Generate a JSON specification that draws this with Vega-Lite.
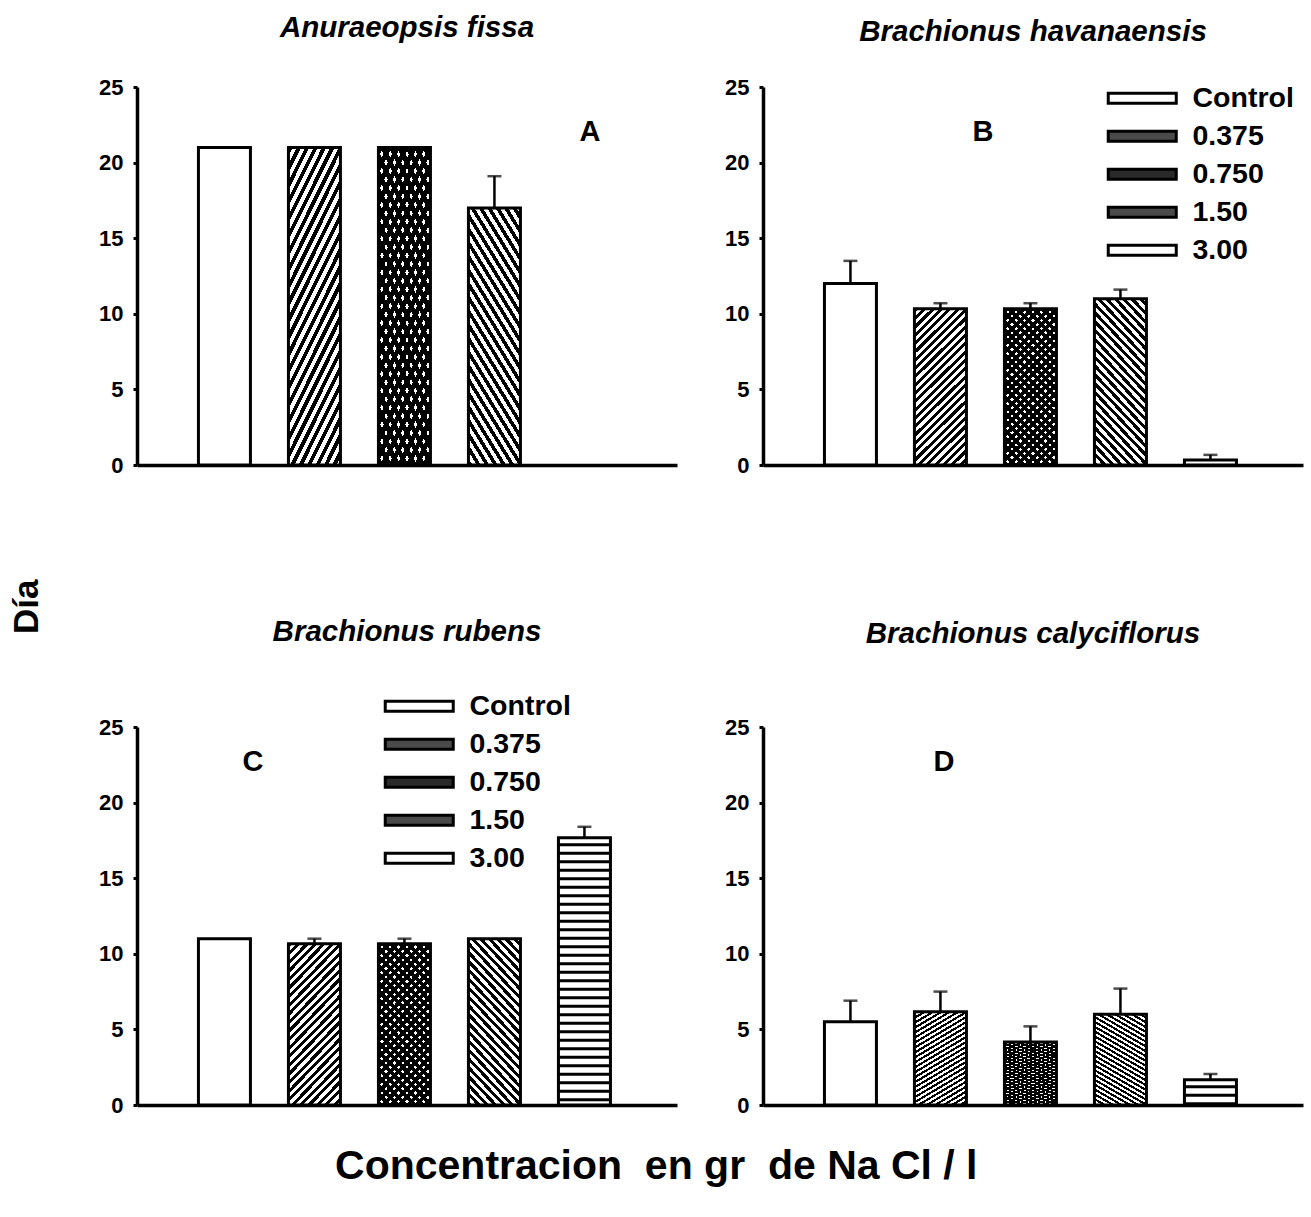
{
"$schema": "https://vega.github.io/schema/vega-lite/v6.json",
"padding": {"left": 9, "top": 12, "right": 5, "bottom": 5},
"datasets": {
"bars": [
{"panel":"A","conc":"Control","mean":21},
{"panel":"A","conc":"0.375","mean":21},
{"panel":"A","conc":"0.750","mean":21},
{"panel":"A","conc":"1.50","mean":17,"upper":19.1},
{"panel":"B","conc":"Control","mean":12,"upper":13.5},
{"panel":"B","conc":"0.375","mean":10.33,"upper":10.7},
{"panel":"B","conc":"0.750","mean":10.33,"upper":10.7},
{"panel":"B","conc":"1.50","mean":11,"upper":11.6},
{"panel":"B","conc":"3.00","mean":0.33,"upper":0.67},
{"panel":"C","conc":"Control","mean":11},
{"panel":"C","conc":"0.375","mean":10.67,"upper":11},
{"panel":"C","conc":"0.750","mean":10.67,"upper":11},
{"panel":"C","conc":"1.50","mean":11},
{"panel":"C","conc":"3.00","mean":17.67,"upper":18.4},
{"panel":"D","conc":"Control","mean":5.5,"upper":6.9},
{"panel":"D","conc":"0.375","mean":6.17,"upper":7.5},
{"panel":"D","conc":"0.750","mean":4.17,"upper":5.2},
{"panel":"D","conc":"1.50","mean":6,"upper":7.7},
{"panel":"D","conc":"3.00","mean":1.67,"upper":2.05}
]
},
"config": {
"font": "Liberation Sans",
"view": {"stroke": null},
"axis": {"grid": false, "domainColor": "black", "tickColor": "black", "labelColor": "black", "labelFont": "Liberation Sans", "labelFontSize": 22, "labelFontWeight": "bold", "domainWidth": 3.5, "tickWidth": 3, "tickSize": 4, "labelPadding": 10},
"title": {"font": "Liberation Sans", "fontSize": 29.5, "fontWeight": "bold", "fontStyle": "italic", "color": "black", "offset": 33, "anchor": "middle"},
"legend": {"orient": "none", "title": null, "symbolType": "M-6.8,-1H6.8V1H-6.8Z", "symbolSize": 100, "symbolStrokeColor": "black", "symbolStrokeWidth": 3, "symbolOpacity": 1, "labelFont": "Liberation Sans", "labelFontSize": 28.5, "labelFontWeight": "bold", "labelColor": "black", "labelOffset": 36, "rowPadding": 9},
"style": {
"h375": {"color": {"gradient":"linear","x1":0,"y1":0,"x2":0.396,"y2":1.2,"stops":[{"offset":0,"color":"#000"},{"offset":0.02,"color":"#000"},{"offset":0.02,"color":"#fff"},{"offset":0.04,"color":"#fff"},{"offset":0.04,"color":"#000"},{"offset":0.06,"color":"#000"},{"offset":0.06,"color":"#fff"},{"offset":0.08,"color":"#fff"},{"offset":0.08,"color":"#000"},{"offset":0.1,"color":"#000"},{"offset":0.1,"color":"#fff"},{"offset":0.12,"color":"#fff"},{"offset":0.12,"color":"#000"},{"offset":0.14,"color":"#000"},{"offset":0.14,"color":"#fff"},{"offset":0.16,"color":"#fff"},{"offset":0.16,"color":"#000"},{"offset":0.18,"color":"#000"},{"offset":0.18,"color":"#fff"},{"offset":0.2,"color":"#fff"},{"offset":0.2,"color":"#000"},{"offset":0.22,"color":"#000"},{"offset":0.22,"color":"#fff"},{"offset":0.24,"color":"#fff"},{"offset":0.24,"color":"#000"},{"offset":0.26,"color":"#000"},{"offset":0.26,"color":"#fff"},{"offset":0.28,"color":"#fff"},{"offset":0.28,"color":"#000"},{"offset":0.3,"color":"#000"},{"offset":0.3,"color":"#fff"},{"offset":0.32,"color":"#fff"},{"offset":0.32,"color":"#000"},{"offset":0.34,"color":"#000"},{"offset":0.34,"color":"#fff"},{"offset":0.36,"color":"#fff"},{"offset":0.36,"color":"#000"},{"offset":0.38,"color":"#000"},{"offset":0.38,"color":"#fff"},{"offset":0.4,"color":"#fff"},{"offset":0.4,"color":"#000"},{"offset":0.42,"color":"#000"},{"offset":0.42,"color":"#fff"},{"offset":0.44,"color":"#fff"},{"offset":0.44,"color":"#000"},{"offset":0.46,"color":"#000"},{"offset":0.46,"color":"#fff"},{"offset":0.48,"color":"#fff"},{"offset":0.48,"color":"#000"},{"offset":0.5,"color":"#000"},{"offset":0.5,"color":"#fff"},{"offset":0.52,"color":"#fff"},{"offset":0.52,"color":"#000"},{"offset":0.54,"color":"#000"},{"offset":0.54,"color":"#fff"},{"offset":0.56,"color":"#fff"},{"offset":0.56,"color":"#000"},{"offset":0.58,"color":"#000"},{"offset":0.58,"color":"#fff"},{"offset":0.6,"color":"#fff"},{"offset":0.6,"color":"#000"},{"offset":0.62,"color":"#000"},{"offset":0.62,"color":"#fff"},{"offset":0.64,"color":"#fff"},{"offset":0.64,"color":"#000"},{"offset":0.66,"color":"#000"},{"offset":0.66,"color":"#fff"},{"offset":0.68,"color":"#fff"},{"offset":0.68,"color":"#000"},{"offset":0.7,"color":"#000"},{"offset":0.7,"color":"#fff"},{"offset":0.72,"color":"#fff"},{"offset":0.72,"color":"#000"},{"offset":0.74,"color":"#000"},{"offset":0.74,"color":"#fff"},{"offset":0.76,"color":"#fff"},{"offset":0.76,"color":"#000"},{"offset":0.78,"color":"#000"},{"offset":0.78,"color":"#fff"},{"offset":0.8,"color":"#fff"},{"offset":0.8,"color":"#000"},{"offset":0.82,"color":"#000"},{"offset":0.82,"color":"#fff"},{"offset":0.84,"color":"#fff"},{"offset":0.84,"color":"#000"},{"offset":0.86,"color":"#000"},{"offset":0.86,"color":"#fff"},{"offset":0.88,"color":"#fff"},{"offset":0.88,"color":"#000"},{"offset":0.9,"color":"#000"},{"offset":0.9,"color":"#fff"},{"offset":0.92,"color":"#fff"},{"offset":0.92,"color":"#000"},{"offset":0.94,"color":"#000"},{"offset":0.94,"color":"#fff"},{"offset":0.96,"color":"#fff"},{"offset":0.96,"color":"#000"},{"offset":0.98,"color":"#000"},{"offset":0.98,"color":"#fff"},{"offset":1,"color":"#fff"}]}},
"h150": {"color": {"gradient":"linear","x1":0,"y1":1,"x2":0.396,"y2":-0.2,"stops":[{"offset":0,"color":"#000"},{"offset":0.02,"color":"#000"},{"offset":0.02,"color":"#fff"},{"offset":0.04,"color":"#fff"},{"offset":0.04,"color":"#000"},{"offset":0.06,"color":"#000"},{"offset":0.06,"color":"#fff"},{"offset":0.08,"color":"#fff"},{"offset":0.08,"color":"#000"},{"offset":0.1,"color":"#000"},{"offset":0.1,"color":"#fff"},{"offset":0.12,"color":"#fff"},{"offset":0.12,"color":"#000"},{"offset":0.14,"color":"#000"},{"offset":0.14,"color":"#fff"},{"offset":0.16,"color":"#fff"},{"offset":0.16,"color":"#000"},{"offset":0.18,"color":"#000"},{"offset":0.18,"color":"#fff"},{"offset":0.2,"color":"#fff"},{"offset":0.2,"color":"#000"},{"offset":0.22,"color":"#000"},{"offset":0.22,"color":"#fff"},{"offset":0.24,"color":"#fff"},{"offset":0.24,"color":"#000"},{"offset":0.26,"color":"#000"},{"offset":0.26,"color":"#fff"},{"offset":0.28,"color":"#fff"},{"offset":0.28,"color":"#000"},{"offset":0.3,"color":"#000"},{"offset":0.3,"color":"#fff"},{"offset":0.32,"color":"#fff"},{"offset":0.32,"color":"#000"},{"offset":0.34,"color":"#000"},{"offset":0.34,"color":"#fff"},{"offset":0.36,"color":"#fff"},{"offset":0.36,"color":"#000"},{"offset":0.38,"color":"#000"},{"offset":0.38,"color":"#fff"},{"offset":0.4,"color":"#fff"},{"offset":0.4,"color":"#000"},{"offset":0.42,"color":"#000"},{"offset":0.42,"color":"#fff"},{"offset":0.44,"color":"#fff"},{"offset":0.44,"color":"#000"},{"offset":0.46,"color":"#000"},{"offset":0.46,"color":"#fff"},{"offset":0.48,"color":"#fff"},{"offset":0.48,"color":"#000"},{"offset":0.5,"color":"#000"},{"offset":0.5,"color":"#fff"},{"offset":0.52,"color":"#fff"},{"offset":0.52,"color":"#000"},{"offset":0.54,"color":"#000"},{"offset":0.54,"color":"#fff"},{"offset":0.56,"color":"#fff"},{"offset":0.56,"color":"#000"},{"offset":0.58,"color":"#000"},{"offset":0.58,"color":"#fff"},{"offset":0.6,"color":"#fff"},{"offset":0.6,"color":"#000"},{"offset":0.62,"color":"#000"},{"offset":0.62,"color":"#fff"},{"offset":0.64,"color":"#fff"},{"offset":0.64,"color":"#000"},{"offset":0.66,"color":"#000"},{"offset":0.66,"color":"#fff"},{"offset":0.68,"color":"#fff"},{"offset":0.68,"color":"#000"},{"offset":0.7,"color":"#000"},{"offset":0.7,"color":"#fff"},{"offset":0.72,"color":"#fff"},{"offset":0.72,"color":"#000"},{"offset":0.74,"color":"#000"},{"offset":0.74,"color":"#fff"},{"offset":0.76,"color":"#fff"},{"offset":0.76,"color":"#000"},{"offset":0.78,"color":"#000"},{"offset":0.78,"color":"#fff"},{"offset":0.8,"color":"#fff"},{"offset":0.8,"color":"#000"},{"offset":0.82,"color":"#000"},{"offset":0.82,"color":"#fff"},{"offset":0.84,"color":"#fff"},{"offset":0.84,"color":"#000"},{"offset":0.86,"color":"#000"},{"offset":0.86,"color":"#fff"},{"offset":0.88,"color":"#fff"},{"offset":0.88,"color":"#000"},{"offset":0.9,"color":"#000"},{"offset":0.9,"color":"#fff"},{"offset":0.92,"color":"#fff"},{"offset":0.92,"color":"#000"},{"offset":0.94,"color":"#000"},{"offset":0.94,"color":"#fff"},{"offset":0.96,"color":"#fff"},{"offset":0.96,"color":"#000"},{"offset":0.98,"color":"#000"},{"offset":0.98,"color":"#fff"},{"offset":1,"color":"#fff"}]}},
"d750a": {"color": {"gradient":"linear","x1":0,"y1":0,"x2":0.396,"y2":1.2,"stops":[{"offset":0,"color":"#000"},{"offset":0.024,"color":"#000"},{"offset":0.024,"color":"#fff"},{"offset":0.04,"color":"#fff"},{"offset":0.04,"color":"#000"},{"offset":0.064,"color":"#000"},{"offset":0.064,"color":"#fff"},{"offset":0.08,"color":"#fff"},{"offset":0.08,"color":"#000"},{"offset":0.104,"color":"#000"},{"offset":0.104,"color":"#fff"},{"offset":0.12,"color":"#fff"},{"offset":0.12,"color":"#000"},{"offset":0.144,"color":"#000"},{"offset":0.144,"color":"#fff"},{"offset":0.16,"color":"#fff"},{"offset":0.16,"color":"#000"},{"offset":0.184,"color":"#000"},{"offset":0.184,"color":"#fff"},{"offset":0.2,"color":"#fff"},{"offset":0.2,"color":"#000"},{"offset":0.224,"color":"#000"},{"offset":0.224,"color":"#fff"},{"offset":0.24,"color":"#fff"},{"offset":0.24,"color":"#000"},{"offset":0.264,"color":"#000"},{"offset":0.264,"color":"#fff"},{"offset":0.28,"color":"#fff"},{"offset":0.28,"color":"#000"},{"offset":0.304,"color":"#000"},{"offset":0.304,"color":"#fff"},{"offset":0.32,"color":"#fff"},{"offset":0.32,"color":"#000"},{"offset":0.344,"color":"#000"},{"offset":0.344,"color":"#fff"},{"offset":0.36,"color":"#fff"},{"offset":0.36,"color":"#000"},{"offset":0.384,"color":"#000"},{"offset":0.384,"color":"#fff"},{"offset":0.4,"color":"#fff"},{"offset":0.4,"color":"#000"},{"offset":0.424,"color":"#000"},{"offset":0.424,"color":"#fff"},{"offset":0.44,"color":"#fff"},{"offset":0.44,"color":"#000"},{"offset":0.464,"color":"#000"},{"offset":0.464,"color":"#fff"},{"offset":0.48,"color":"#fff"},{"offset":0.48,"color":"#000"},{"offset":0.504,"color":"#000"},{"offset":0.504,"color":"#fff"},{"offset":0.52,"color":"#fff"},{"offset":0.52,"color":"#000"},{"offset":0.544,"color":"#000"},{"offset":0.544,"color":"#fff"},{"offset":0.56,"color":"#fff"},{"offset":0.56,"color":"#000"},{"offset":0.584,"color":"#000"},{"offset":0.584,"color":"#fff"},{"offset":0.6,"color":"#fff"},{"offset":0.6,"color":"#000"},{"offset":0.624,"color":"#000"},{"offset":0.624,"color":"#fff"},{"offset":0.64,"color":"#fff"},{"offset":0.64,"color":"#000"},{"offset":0.664,"color":"#000"},{"offset":0.664,"color":"#fff"},{"offset":0.68,"color":"#fff"},{"offset":0.68,"color":"#000"},{"offset":0.704,"color":"#000"},{"offset":0.704,"color":"#fff"},{"offset":0.72,"color":"#fff"},{"offset":0.72,"color":"#000"},{"offset":0.744,"color":"#000"},{"offset":0.744,"color":"#fff"},{"offset":0.76,"color":"#fff"},{"offset":0.76,"color":"#000"},{"offset":0.784,"color":"#000"},{"offset":0.784,"color":"#fff"},{"offset":0.8,"color":"#fff"},{"offset":0.8,"color":"#000"},{"offset":0.824,"color":"#000"},{"offset":0.824,"color":"#fff"},{"offset":0.84,"color":"#fff"},{"offset":0.84,"color":"#000"},{"offset":0.864,"color":"#000"},{"offset":0.864,"color":"#fff"},{"offset":0.88,"color":"#fff"},{"offset":0.88,"color":"#000"},{"offset":0.904,"color":"#000"},{"offset":0.904,"color":"#fff"},{"offset":0.92,"color":"#fff"},{"offset":0.92,"color":"#000"},{"offset":0.944,"color":"#000"},{"offset":0.944,"color":"#fff"},{"offset":0.96,"color":"#fff"},{"offset":0.96,"color":"#000"},{"offset":0.984,"color":"#000"},{"offset":0.984,"color":"#fff"},{"offset":1,"color":"#fff"}]}},
"d750b": {"color": {"gradient":"linear","x1":0,"y1":1,"x2":0.396,"y2":-0.2,"stops":[{"offset":0,"color":"#000"},{"offset":0.024,"color":"#000"},{"offset":0.024,"color":"transparent"},{"offset":0.04,"color":"transparent"},{"offset":0.04,"color":"#000"},{"offset":0.064,"color":"#000"},{"offset":0.064,"color":"transparent"},{"offset":0.08,"color":"transparent"},{"offset":0.08,"color":"#000"},{"offset":0.104,"color":"#000"},{"offset":0.104,"color":"transparent"},{"offset":0.12,"color":"transparent"},{"offset":0.12,"color":"#000"},{"offset":0.144,"color":"#000"},{"offset":0.144,"color":"transparent"},{"offset":0.16,"color":"transparent"},{"offset":0.16,"color":"#000"},{"offset":0.184,"color":"#000"},{"offset":0.184,"color":"transparent"},{"offset":0.2,"color":"transparent"},{"offset":0.2,"color":"#000"},{"offset":0.224,"color":"#000"},{"offset":0.224,"color":"transparent"},{"offset":0.24,"color":"transparent"},{"offset":0.24,"color":"#000"},{"offset":0.264,"color":"#000"},{"offset":0.264,"color":"transparent"},{"offset":0.28,"color":"transparent"},{"offset":0.28,"color":"#000"},{"offset":0.304,"color":"#000"},{"offset":0.304,"color":"transparent"},{"offset":0.32,"color":"transparent"},{"offset":0.32,"color":"#000"},{"offset":0.344,"color":"#000"},{"offset":0.344,"color":"transparent"},{"offset":0.36,"color":"transparent"},{"offset":0.36,"color":"#000"},{"offset":0.384,"color":"#000"},{"offset":0.384,"color":"transparent"},{"offset":0.4,"color":"transparent"},{"offset":0.4,"color":"#000"},{"offset":0.424,"color":"#000"},{"offset":0.424,"color":"transparent"},{"offset":0.44,"color":"transparent"},{"offset":0.44,"color":"#000"},{"offset":0.464,"color":"#000"},{"offset":0.464,"color":"transparent"},{"offset":0.48,"color":"transparent"},{"offset":0.48,"color":"#000"},{"offset":0.504,"color":"#000"},{"offset":0.504,"color":"transparent"},{"offset":0.52,"color":"transparent"},{"offset":0.52,"color":"#000"},{"offset":0.544,"color":"#000"},{"offset":0.544,"color":"transparent"},{"offset":0.56,"color":"transparent"},{"offset":0.56,"color":"#000"},{"offset":0.584,"color":"#000"},{"offset":0.584,"color":"transparent"},{"offset":0.6,"color":"transparent"},{"offset":0.6,"color":"#000"},{"offset":0.624,"color":"#000"},{"offset":0.624,"color":"transparent"},{"offset":0.64,"color":"transparent"},{"offset":0.64,"color":"#000"},{"offset":0.664,"color":"#000"},{"offset":0.664,"color":"transparent"},{"offset":0.68,"color":"transparent"},{"offset":0.68,"color":"#000"},{"offset":0.704,"color":"#000"},{"offset":0.704,"color":"transparent"},{"offset":0.72,"color":"transparent"},{"offset":0.72,"color":"#000"},{"offset":0.744,"color":"#000"},{"offset":0.744,"color":"transparent"},{"offset":0.76,"color":"transparent"},{"offset":0.76,"color":"#000"},{"offset":0.784,"color":"#000"},{"offset":0.784,"color":"transparent"},{"offset":0.8,"color":"transparent"},{"offset":0.8,"color":"#000"},{"offset":0.824,"color":"#000"},{"offset":0.824,"color":"transparent"},{"offset":0.84,"color":"transparent"},{"offset":0.84,"color":"#000"},{"offset":0.864,"color":"#000"},{"offset":0.864,"color":"transparent"},{"offset":0.88,"color":"transparent"},{"offset":0.88,"color":"#000"},{"offset":0.904,"color":"#000"},{"offset":0.904,"color":"transparent"},{"offset":0.92,"color":"transparent"},{"offset":0.92,"color":"#000"},{"offset":0.944,"color":"#000"},{"offset":0.944,"color":"transparent"},{"offset":0.96,"color":"transparent"},{"offset":0.96,"color":"#000"},{"offset":0.984,"color":"#000"},{"offset":0.984,"color":"transparent"},{"offset":1,"color":"transparent"}]}}
}
},
"title": {"text": "Concentracion\u00a0 en gr\u00a0 de Na Cl / l", "orient": "bottom", "fontSize": 41, "fontStyle": "normal", "offset": 16},
"resolve": {"scale": {"fill": "independent"}, "legend": {"fill": "independent"}},
"vconcat": [
{
"title": {"text": "Día", "orient": "left", "fontSize": 35, "fontStyle": "normal", "offset": 54, "dx": -35},
"spacing": 640,
"bounds": "flush",
"resolve": {"scale": {"fill": "independent"}, "legend": {"fill": "independent"}},
"vconcat": [
{
"hconcat": [
{
"width": 540, "height": 378,
"title": {"text": "Anuraeopsis fissa"},
"data": {"name": "bars"},
"transform": [{"filter": "datum.panel === 'A'"}],
"encoding": {
"x": {"field": "conc", "type": "nominal", "title": null, "scale": {"domain": ["Control","0.375","0.750","1.50","3.00"], "paddingInner": 0.4222, "paddingOuter": 0.7111, "align": 0.48}, "axis": {"labels": false, "ticks": false}},
"y": {"field": "mean", "type": "quantitative", "title": null, "scale": {"domain": [0, 25]}, "axis": {"values": [0,5,10,15,20,25]}}
},
"layer": [
{"mark": {"type": "bar"}, "encoding": {"fill": {"field": "conc", "type": "nominal", "scale": {"domain": ["Control","0.375","0.750","1.50","3.00"], "range": ["#ffffff","#4a4a4a","#2a2a2a","#4a4a4a","#ffffff"]}, "legend": null}}},
{"transform": [{"filter": "datum.conc === '0.375'"}], "mark": {"type": "bar", "style": "h375"}},
{"transform": [{"filter": "datum.conc === '0.750'"}], "mark": {"type": "bar", "style": "d750a"}},
{"transform": [{"filter": "datum.conc === '0.750'"}], "mark": {"type": "bar", "style": "d750b"}},
{"transform": [{"filter": "datum.conc === '1.50'"}], "mark": {"type": "bar", "style": "h150"}},
{"transform": [{"filter": "datum.conc === '3.00'"}], "mark": {"type": "rule", "color": "black", "strokeWidth": 52, "strokeDash": [3, 5.5], "strokeDashOffset": 3}, "encoding": {"y2": {"datum": 0}}},
{"mark": {"type": "bar", "fill": "transparent", "stroke": "black", "strokeWidth": 3}},
{"transform": [{"filter": "datum.upper != null"}], "mark": {"type": "rule", "color": "black", "strokeWidth": 2.5}, "encoding": {"y2": {"field": "upper"}}},
{"transform": [{"filter": "datum.upper != null"}], "mark": {"type": "tick", "color": "black", "size": 14, "thickness": 2.5}, "encoding": {"y": {"field": "upper", "type": "quantitative"}}},
{"transform": [{"filter": "datum.conc === 'Control'"}], "mark": {"type": "text", "text": "A", "fontSize": 29, "fontWeight": "bold", "color": "black", "dx": 5.5}, "encoding": {"x": {"datum": "3.00"}, "y": {"datum": 22.05}}}
]
},
{
"width": 540, "height": 378,
"title": {"text": "Brachionus havanaensis", "dy": 4},
"data": {"name": "bars"},
"transform": [{"filter": "datum.panel === 'B'"}],
"encoding": {
"x": {"field": "conc", "type": "nominal", "title": null, "scale": {"domain": ["Control","0.375","0.750","1.50","3.00"], "paddingInner": 0.4222, "paddingOuter": 0.7111, "align": 0.48}, "axis": {"labels": false, "ticks": false}},
"y": {"field": "mean", "type": "quantitative", "title": null, "scale": {"domain": [0, 25]}, "axis": {"values": [0,5,10,15,20,25]}}
},
"layer": [
{"mark": {"type": "bar"}, "encoding": {"fill": {"field": "conc", "type": "nominal", "scale": {"domain": ["Control","0.375","0.750","1.50","3.00"], "range": ["#ffffff","#4a4a4a","#2a2a2a","#4a4a4a","#ffffff"]}, "legend": {"legendX": 365, "legendY": -3}}}},
{"transform": [{"filter": "datum.conc === '0.375'"}], "mark": {"type": "bar", "style": "h375"}},
{"transform": [{"filter": "datum.conc === '0.750'"}], "mark": {"type": "bar", "style": "d750a"}},
{"transform": [{"filter": "datum.conc === '0.750'"}], "mark": {"type": "bar", "style": "d750b"}},
{"transform": [{"filter": "datum.conc === '1.50'"}], "mark": {"type": "bar", "style": "h150"}},
{"transform": [{"filter": "datum.conc === '3.00'"}], "mark": {"type": "rule", "color": "black", "strokeWidth": 52, "strokeDash": [3, 5.5], "strokeDashOffset": 3}, "encoding": {"y2": {"datum": 0}}},
{"mark": {"type": "bar", "fill": "transparent", "stroke": "black", "strokeWidth": 3}},
{"transform": [{"filter": "datum.upper != null"}], "mark": {"type": "rule", "color": "black", "strokeWidth": 2.5}, "encoding": {"y2": {"field": "upper"}}},
{"transform": [{"filter": "datum.upper != null"}], "mark": {"type": "tick", "color": "black", "size": 14, "thickness": 2.5}, "encoding": {"y": {"field": "upper", "type": "quantitative"}}},
{"transform": [{"filter": "datum.conc === 'Control'"}], "mark": {"type": "text", "text": "B", "fontSize": 29, "fontWeight": "bold", "color": "black", "dx": 42.5}, "encoding": {"x": {"datum": "0.375"}, "y": {"datum": 22.05}}}
]
}
],
"spacing": 86,
"bounds": "flush",
"resolve": {"scale": {"fill": "independent"}, "legend": {"fill": "independent"}}
},
{
"hconcat": [
{
"width": 540, "height": 378,
"title": {"text": "Brachionus rubens", "dy": -12},
"data": {"name": "bars"},
"transform": [{"filter": "datum.panel === 'C'"}],
"encoding": {
"x": {"field": "conc", "type": "nominal", "title": null, "scale": {"domain": ["Control","0.375","0.750","1.50","3.00"], "paddingInner": 0.4222, "paddingOuter": 0.7111, "align": 0.48}, "axis": {"labels": false, "ticks": false}},
"y": {"field": "mean", "type": "quantitative", "title": null, "scale": {"domain": [0, 25]}, "axis": {"values": [0,5,10,15,20,25]}}
},
"layer": [
{"mark": {"type": "bar"}, "encoding": {"fill": {"field": "conc", "type": "nominal", "scale": {"domain": ["Control","0.375","0.750","1.50","3.00"], "range": ["#ffffff","#4a4a4a","#2a2a2a","#4a4a4a","#ffffff"]}, "legend": {"legendX": 268, "legendY": -35}}}},
{"transform": [{"filter": "datum.conc === '0.375'"}], "mark": {"type": "bar", "style": "h375"}},
{"transform": [{"filter": "datum.conc === '0.750'"}], "mark": {"type": "bar", "style": "d750a"}},
{"transform": [{"filter": "datum.conc === '0.750'"}], "mark": {"type": "bar", "style": "d750b"}},
{"transform": [{"filter": "datum.conc === '1.50'"}], "mark": {"type": "bar", "style": "h150"}},
{"transform": [{"filter": "datum.conc === '3.00'"}], "mark": {"type": "rule", "color": "black", "strokeWidth": 52, "strokeDash": [3, 5.5], "strokeDashOffset": 3}, "encoding": {"y2": {"datum": 0}}},
{"mark": {"type": "bar", "fill": "transparent", "stroke": "black", "strokeWidth": 3}},
{"transform": [{"filter": "datum.upper != null"}], "mark": {"type": "rule", "color": "black", "strokeWidth": 2.5}, "encoding": {"y2": {"field": "upper"}}},
{"transform": [{"filter": "datum.upper != null"}], "mark": {"type": "tick", "color": "black", "size": 14, "thickness": 2.5}, "encoding": {"y": {"field": "upper", "type": "quantitative"}}},
{"transform": [{"filter": "datum.conc === 'Control'"}], "mark": {"type": "text", "text": "C", "fontSize": 29, "fontWeight": "bold", "color": "black", "dx": 28.5}, "encoding": {"x": {"datum": "Control"}, "y": {"datum": 22.7}}}
]
},
{
"width": 540, "height": 378,
"title": {"text": "Brachionus calyciflorus", "dy": -34},
"data": {"name": "bars"},
"transform": [{"filter": "datum.panel === 'D'"}],
"encoding": {
"x": {"field": "conc", "type": "nominal", "title": null, "scale": {"domain": ["Control","0.375","0.750","1.50","3.00"], "paddingInner": 0.4222, "paddingOuter": 0.7111, "align": 0.48}, "axis": {"labels": false, "ticks": false}},
"y": {"field": "mean", "type": "quantitative", "title": null, "scale": {"domain": [0, 25]}, "axis": {"values": [0,5,10,15,20,25]}}
},
"layer": [
{"mark": {"type": "bar"}, "encoding": {"fill": {"field": "conc", "type": "nominal", "scale": {"domain": ["Control","0.375","0.750","1.50","3.00"], "range": ["#ffffff","#4a4a4a","#2a2a2a","#4a4a4a","#ffffff"]}, "legend": null}}},
{"transform": [{"filter": "datum.conc === '0.375'"}], "mark": {"type": "bar", "style": "h375"}},
{"transform": [{"filter": "datum.conc === '0.750'"}], "mark": {"type": "bar", "style": "d750a"}},
{"transform": [{"filter": "datum.conc === '0.750'"}], "mark": {"type": "bar", "style": "d750b"}},
{"transform": [{"filter": "datum.conc === '1.50'"}], "mark": {"type": "bar", "style": "h150"}},
{"transform": [{"filter": "datum.conc === '3.00'"}], "mark": {"type": "rule", "color": "black", "strokeWidth": 52, "strokeDash": [3, 5.5], "strokeDashOffset": 3}, "encoding": {"y2": {"datum": 0}}},
{"mark": {"type": "bar", "fill": "transparent", "stroke": "black", "strokeWidth": 3}},
{"transform": [{"filter": "datum.upper != null"}], "mark": {"type": "rule", "color": "black", "strokeWidth": 2.5}, "encoding": {"y2": {"field": "upper"}}},
{"transform": [{"filter": "datum.upper != null"}], "mark": {"type": "tick", "color": "black", "size": 14, "thickness": 2.5}, "encoding": {"y": {"field": "upper", "type": "quantitative"}}},
{"transform": [{"filter": "datum.conc === 'Control'"}], "mark": {"type": "text", "text": "D", "fontSize": 29, "fontWeight": "bold", "color": "black", "dx": 3.5}, "encoding": {"x": {"datum": "0.375"}, "y": {"datum": 22.7}}}
]
}
],
"spacing": 86,
"bounds": "flush",
"resolve": {"scale": {"fill": "independent"}, "legend": {"fill": "independent"}}
}
]
}
]
}
